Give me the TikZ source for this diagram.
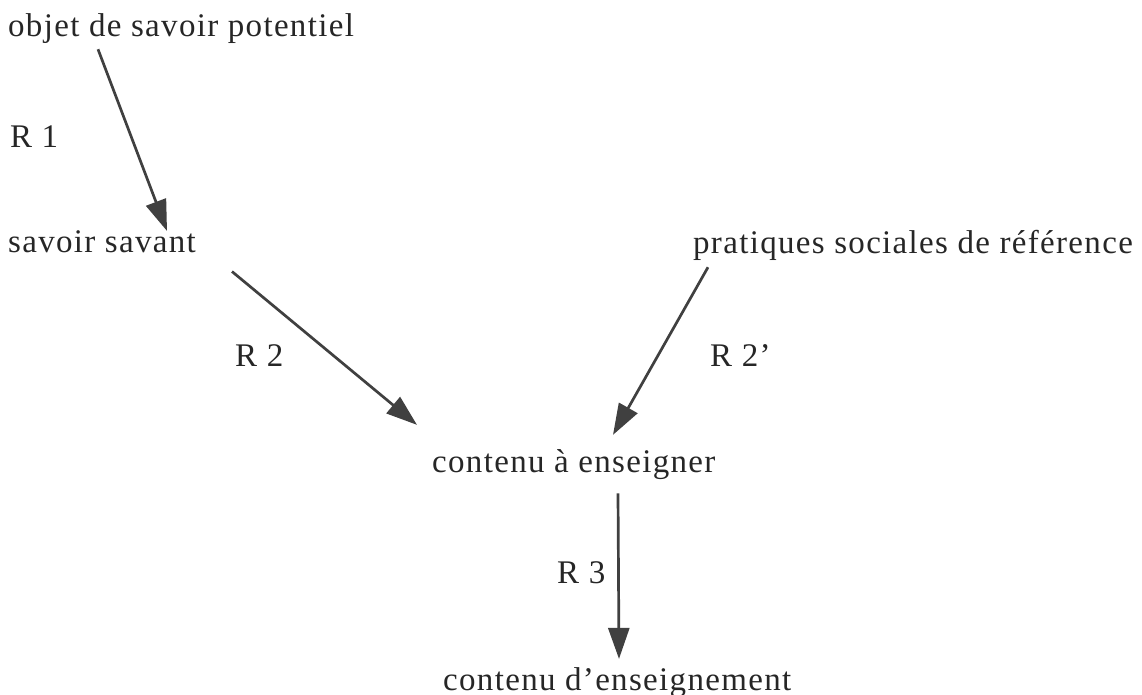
\documentclass[tikz,border=0pt]{standalone}
\usepackage{fontspec}
\setmainfont{Liberation Serif}[LetterSpace=4]
\usepackage{tikz}
\usetikzlibrary{arrows.meta, positioning}

\begin{document}
\begin{tikzpicture}[x=1pt, y=-1pt,
    every node/.style={inner sep=0pt, anchor=base west, text=black!85,
        font=\fontsize{33}{38}\selectfont},
    fleche/.style={line width=2.7pt, black!75,
        -{Triangle[length=31pt, width=21pt]}}]
    % Fix the page to the reference size
    \useasboundingbox (0,0) rectangle (1142,695);

    % The knowledge levels
    \node (obj) at (8,37) {objet de savoir potentiel};
    \node (sav) at (8,252) {savoir savant};
    \node (prat) at (693,253) {pratiques sociales de référence};
    \node (ens) at (432,472) {contenu à enseigner};
    \node (cens) at (443,690) {contenu d’enseignement};

    % Labels of the transpositions
    \node (r1) at (10,148) {R 1};
    \node (r2) at (235,366) {R 2};
    \node (r2p) at (710,366) {R 2’};
    \node (r3) at (557,583) {R 3};

    % Arrows between the levels
    \draw[fleche] ([xshift=90pt, yshift=-5pt]obj.south west) -- ([xshift=159pt, yshift=-1pt]sav.north west);
    \draw[fleche] ([xshift=224pt, yshift=-19pt]sav.south west) -- ([xshift=-15pt, yshift=24pt]ens.north west);
    \draw[fleche] ([xshift=15pt, yshift=-7pt]prat.south west) -- ([xshift=181pt, yshift=14pt]ens.north west);
    \draw[fleche] ([xshift=186pt, yshift=-14pt]ens.south west) -- ([xshift=176pt, yshift=8pt]cens.north west);
\end{tikzpicture}
\end{document}
